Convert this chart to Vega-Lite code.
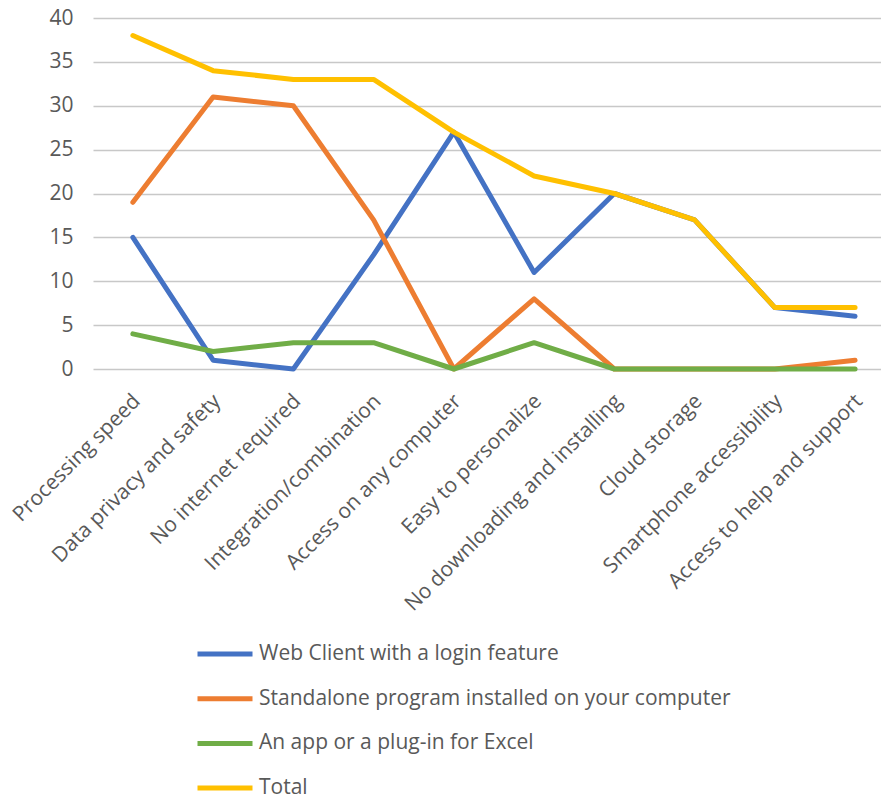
{
  "$schema": "https://vega.github.io/schema/vega-lite/v6.json",
  "width": 788,
  "height": 351,
  "autosize": {"type": "none"},
  "padding": {"left": 93, "top": 18, "right": 0, "bottom": 431},
  "background": "white",
  "config": {
    "view": {"stroke": null},
    "font": "Open Sans"
  },
  "data": {
    "values": [
      {"feature": "Processing speed", "series": "Web Client with a login feature", "value": 15},
      {"feature": "Data privacy and safety", "series": "Web Client with a login feature", "value": 1},
      {"feature": "No internet required", "series": "Web Client with a login feature", "value": 0},
      {"feature": "Integration/combination", "series": "Web Client with a login feature", "value": 13},
      {"feature": "Access on any computer", "series": "Web Client with a login feature", "value": 27},
      {"feature": "Easy to personalize", "series": "Web Client with a login feature", "value": 11},
      {"feature": "No downloading and installing", "series": "Web Client with a login feature", "value": 20},
      {"feature": "Cloud storage", "series": "Web Client with a login feature", "value": 17},
      {"feature": "Smartphone accessibility", "series": "Web Client with a login feature", "value": 7},
      {"feature": "Access to help and support", "series": "Web Client with a login feature", "value": 6},
      {"feature": "Processing speed", "series": "Standalone program installed on your computer", "value": 19},
      {"feature": "Data privacy and safety", "series": "Standalone program installed on your computer", "value": 31},
      {"feature": "No internet required", "series": "Standalone program installed on your computer", "value": 30},
      {"feature": "Integration/combination", "series": "Standalone program installed on your computer", "value": 17},
      {"feature": "Access on any computer", "series": "Standalone program installed on your computer", "value": 0},
      {"feature": "Easy to personalize", "series": "Standalone program installed on your computer", "value": 8},
      {"feature": "No downloading and installing", "series": "Standalone program installed on your computer", "value": 0},
      {"feature": "Cloud storage", "series": "Standalone program installed on your computer", "value": 0},
      {"feature": "Smartphone accessibility", "series": "Standalone program installed on your computer", "value": 0},
      {"feature": "Access to help and support", "series": "Standalone program installed on your computer", "value": 1},
      {"feature": "Processing speed", "series": "An app or a plug-in for Excel", "value": 4},
      {"feature": "Data privacy and safety", "series": "An app or a plug-in for Excel", "value": 2},
      {"feature": "No internet required", "series": "An app or a plug-in for Excel", "value": 3},
      {"feature": "Integration/combination", "series": "An app or a plug-in for Excel", "value": 3},
      {"feature": "Access on any computer", "series": "An app or a plug-in for Excel", "value": 0},
      {"feature": "Easy to personalize", "series": "An app or a plug-in for Excel", "value": 3},
      {"feature": "No downloading and installing", "series": "An app or a plug-in for Excel", "value": 0},
      {"feature": "Cloud storage", "series": "An app or a plug-in for Excel", "value": 0},
      {"feature": "Smartphone accessibility", "series": "An app or a plug-in for Excel", "value": 0},
      {"feature": "Access to help and support", "series": "An app or a plug-in for Excel", "value": 0},
      {"feature": "Processing speed", "series": "Total", "value": 38},
      {"feature": "Data privacy and safety", "series": "Total", "value": 34},
      {"feature": "No internet required", "series": "Total", "value": 33},
      {"feature": "Integration/combination", "series": "Total", "value": 33},
      {"feature": "Access on any computer", "series": "Total", "value": 27},
      {"feature": "Easy to personalize", "series": "Total", "value": 22},
      {"feature": "No downloading and installing", "series": "Total", "value": 20},
      {"feature": "Cloud storage", "series": "Total", "value": 17},
      {"feature": "Smartphone accessibility", "series": "Total", "value": 7},
      {"feature": "Access to help and support", "series": "Total", "value": 7}
    ]
  },
  "mark": {"type": "line", "strokeWidth": 5, "strokeCap": "round", "strokeJoin": "round"},
  "encoding": {
    "x": {
      "field": "feature",
      "type": "nominal",
      "sort": null,
      "scale": {"type": "point", "padding": 0.41, "align": 0.606},
      "axis": {
        "title": null,
        "labelAngle": -45,
        "labelFontSize": 21,
        "labelColor": "#595959",
        "labelPadding": 21,
        "labelOffset": -4,
        "ticks": false,
        "domain": false,
        "grid": false,
        "labelOverlap": false,
        "labelLimit": 400
      }
    },
    "y": {
      "field": "value",
      "type": "quantitative",
      "scale": {"domain": [0, 40], "nice": false},
      "axis": {
        "title": null,
        "values": [0, 5, 10, 15, 20, 25, 30, 35, 40],
        "labelFontSize": 21,
        "labelColor": "#595959",
        "labelPadding": 20,
        "ticks": false,
        "domain": false,
        "grid": true,
        "gridColor": "#c8c8c8",
        "gridWidth": 1.5
      }
    },
    "color": {
      "field": "series",
      "type": "nominal",
      "sort": null,
      "scale": {
        "domain": ["Web Client with a login feature", "Standalone program installed on your computer", "An app or a plug-in for Excel", "Total"],
        "range": ["#4472C4", "#ED7D31", "#70AD47", "#FFC000"]
      },
      "legend": {
        "title": null,
        "orient": "none",
        "legendX": 102,
        "legendY": 606,
        "direction": "vertical",
        "padding": 0,
        "symbolType": "stroke",
        "symbolSize": 3025,
        "symbolStrokeWidth": 5,
        "labelFontSize": 21,
        "labelColor": "#595959",
        "labelOffset": 4,
        "labelLimit": 600,
        "rowPadding": 4.7
      }
    }
  }
}
